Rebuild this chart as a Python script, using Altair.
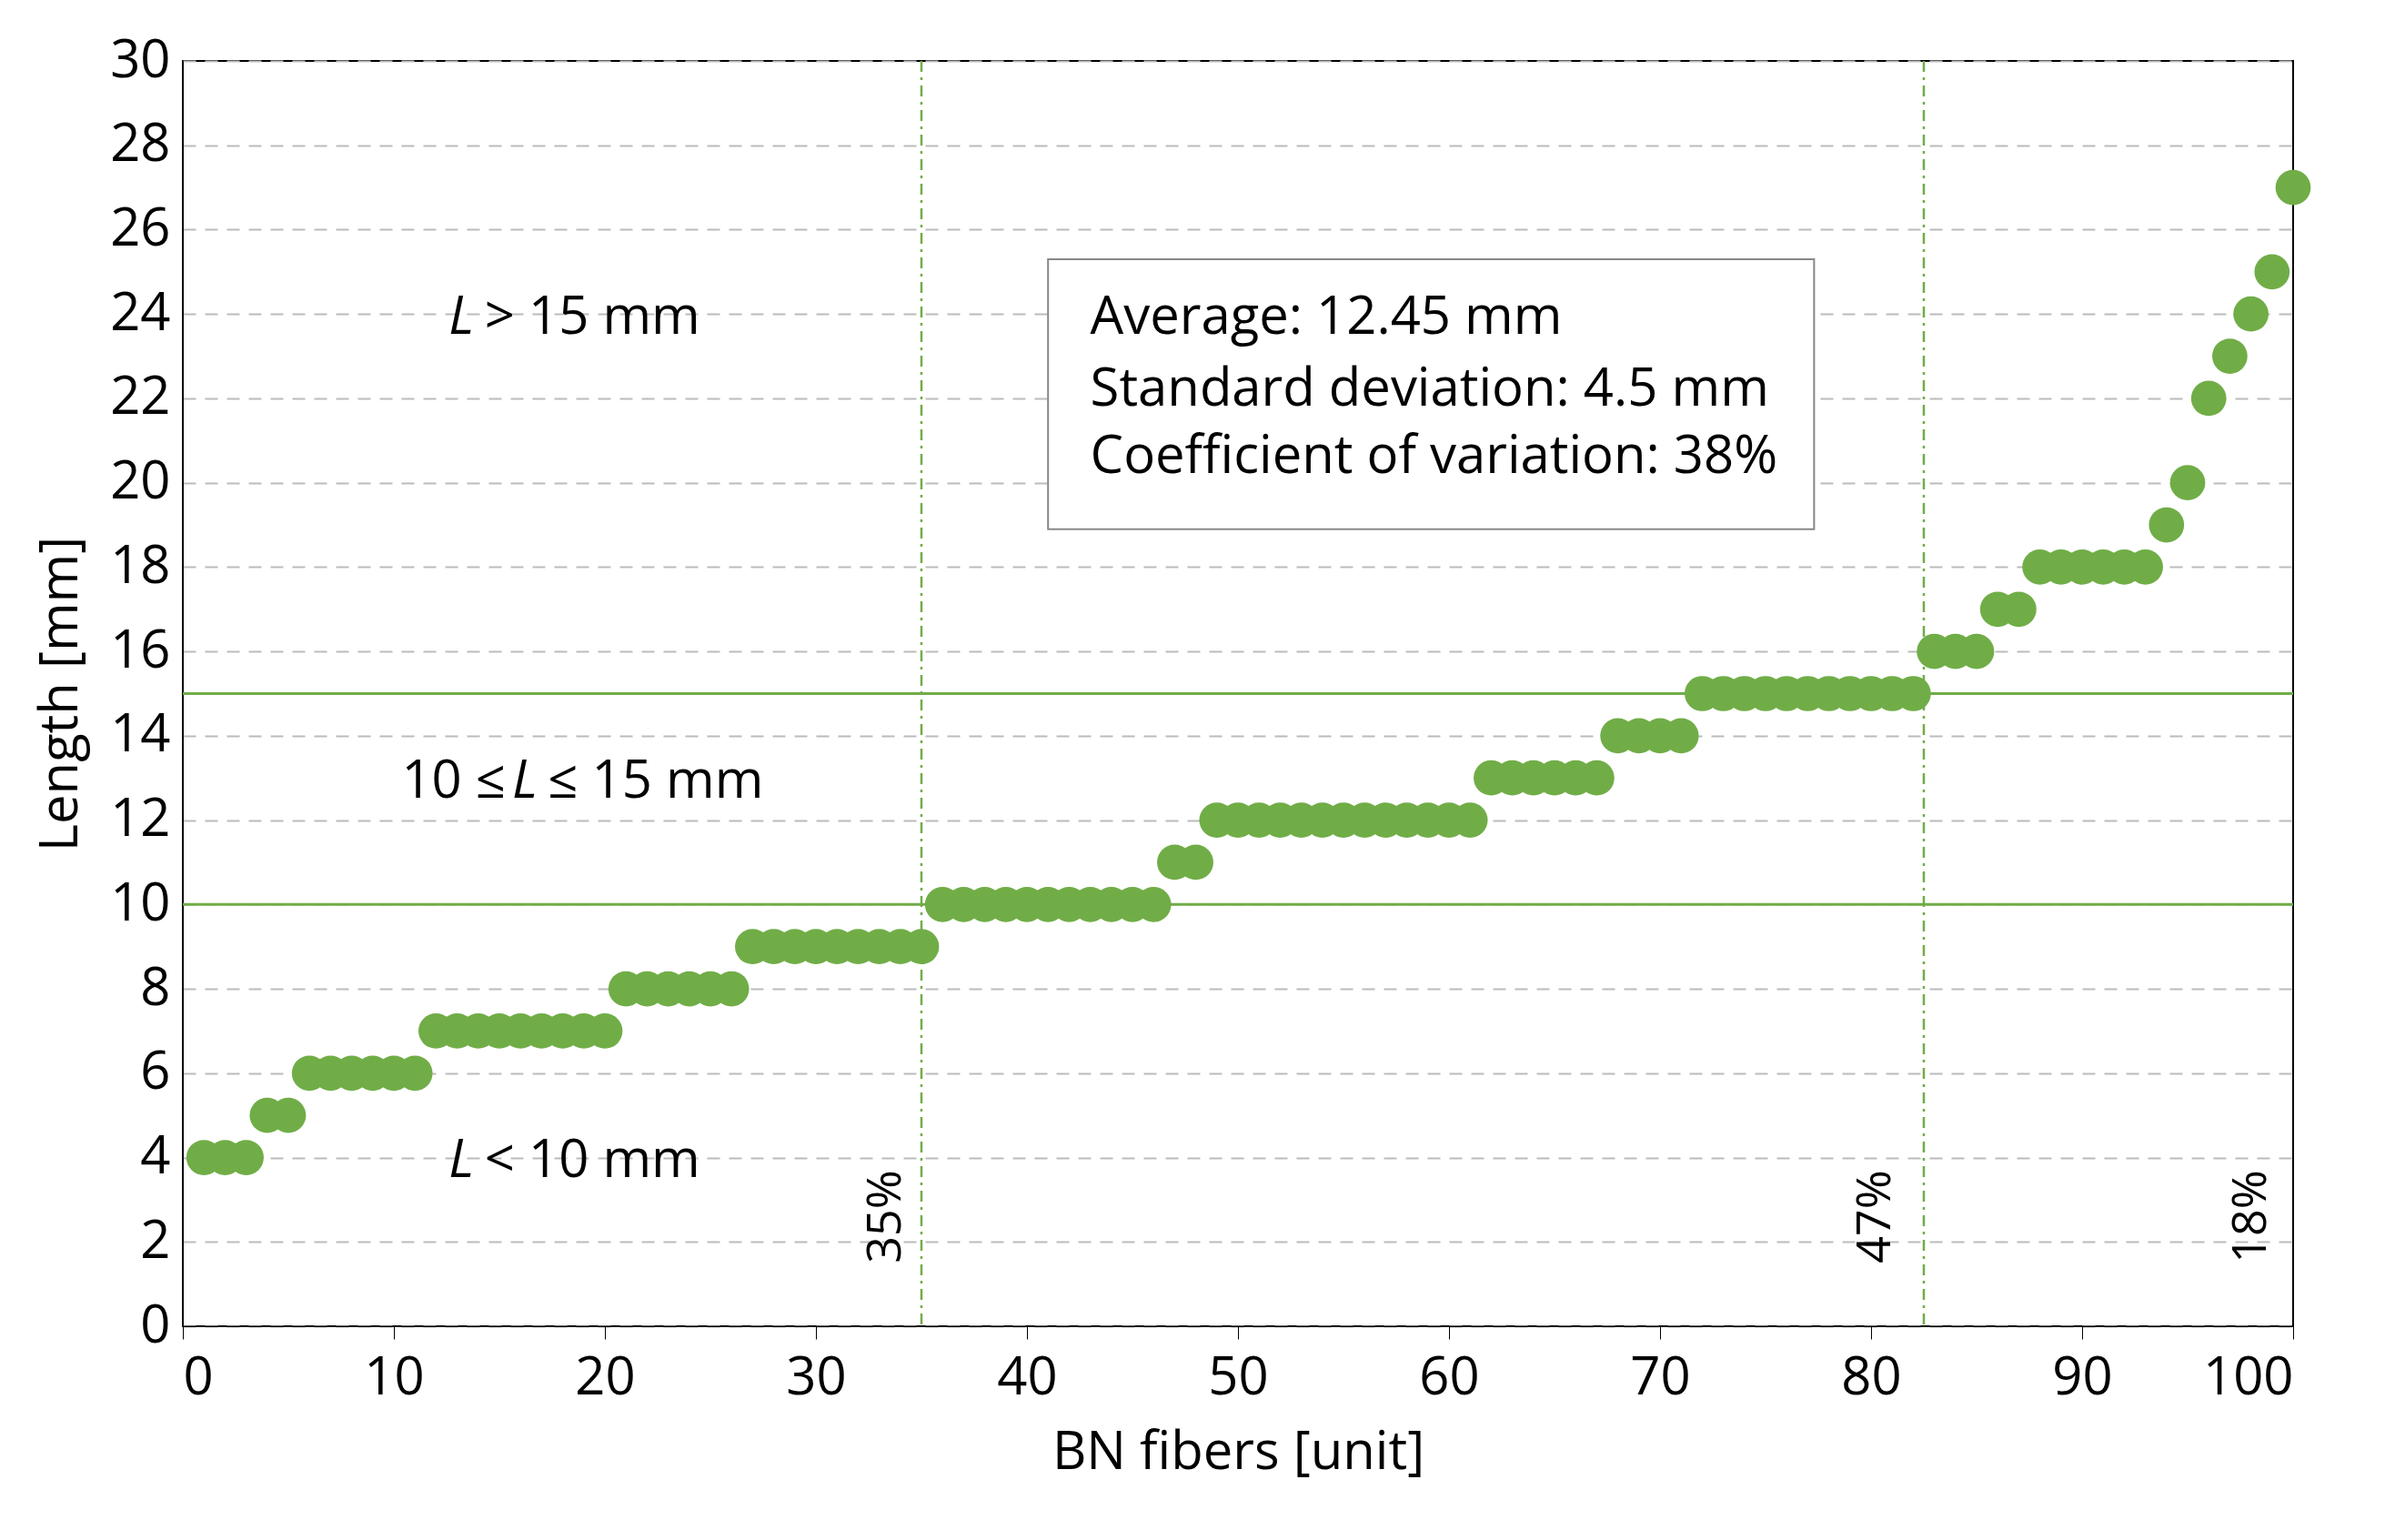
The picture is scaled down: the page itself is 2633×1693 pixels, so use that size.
import altair as alt
import pandas as pd

lengths = [4, 4, 4, 5, 5, 6, 6, 6, 6, 6, 6,
           7, 7, 7, 7, 7, 7, 7, 7, 7,
           8, 8, 8, 8, 8, 8,
           9, 9, 9, 9, 9, 9, 9, 9, 9,
           10, 10, 10, 10, 10, 10, 10, 10, 10, 10, 10,
           11, 11,
           12, 12, 12, 12, 12, 12, 12, 12, 12, 12, 12, 12, 12,
           13, 13, 13, 13, 13, 13,
           14, 14, 14, 14,
           15, 15, 15, 15, 15, 15, 15, 15, 15, 15, 15,
           16, 16, 16, 17, 17,
           18, 18, 18, 18, 18, 18,
           19, 20, 22, 23, 24, 25, 27]
fibers = list(range(1, len(lengths) + 1))

df = pd.DataFrame({"fiber": fibers, "length": lengths})
green = "#70ad47"
FONT = "Open Sans"
FS = 58

xs = alt.Scale(domain=[0, 100], nice=False)
ys = alt.Scale(domain=[0, 30], nice=False)

points = alt.Chart(df).mark_circle(size=1500, color=green, opacity=1).encode(
    x=alt.X("fiber:Q", scale=xs, title="BN fibers [unit]",
            axis=alt.Axis(values=list(range(0, 101, 10)), grid=False, tickSize=14,
                          tickColor="black", domainColor="black",
                          labelFontSize=FS, titleFontSize=FS, labelPadding=14,
                          titlePadding=24, labelColor="black", titleColor="black",
                          titleFontWeight="normal", labelFont=FONT, titleFont=FONT)),
    y=alt.Y("length:Q", scale=ys, title="Length [mm]",
            axis=alt.Axis(values=list(range(0, 31, 2)), gridDash=[14, 10], gridColor="#bbbbbb",
                          gridWidth=2, tickSize=0, domainColor="black",
                          labelFontSize=FS, titleFontSize=FS, labelPadding=14,
                          titlePadding=24, labelColor="black", titleColor="black",
                          titleFontWeight="normal", labelFont=FONT, titleFont=FONT)),
)

hlines = alt.Chart(pd.DataFrame({"y": [10, 15]})).mark_rule(color=green, strokeWidth=3).encode(
    y=alt.Y("y:Q", scale=ys))
vlines = alt.Chart(pd.DataFrame({"x": [35, 82.5]})).mark_rule(
    color=green, strokeWidth=2.5, strokeDash=[12, 6, 3, 6]).encode(x=alt.X("x:Q", scale=xs))

box = alt.Chart(pd.DataFrame({"x": [41], "x2": [77.3], "y": [25.3], "y2": [18.9]})).mark_rect(
    fill="white", stroke="#888888", strokeWidth=2).encode(
    x=alt.X("x:Q", scale=xs), x2="x2:Q", y=alt.Y("y:Q", scale=ys), y2="y2:Q")

box_txt = pd.DataFrame({"x": [43, 43, 43], "y": [23.9, 22.2, 20.6],
                        "t": ["Average: 12.45 mm", "Standard deviation: 4.5 mm",
                              "Coefficient of variation: 38%"]})
box_text = alt.Chart(box_txt).mark_text(align="left", fontSize=FS, font=FONT, color="black").encode(
    x=alt.X("x:Q", scale=xs), y=alt.Y("y:Q", scale=ys), text="t:N")

italic_df = pd.DataFrame({"x": [12.6, 12.6, 15.6], "y": [23.9, 3.9, 12.9], "t": ["L", "L", "L"]})
italic = alt.Chart(italic_df).mark_text(align="left", fontSize=FS, font=FONT, fontStyle="italic",
                                        color="black").encode(
    x=alt.X("x:Q", scale=xs), y=alt.Y("y:Q", scale=ys), text="t:N")
rest_df = pd.DataFrame({"x": [14.3, 14.3, 17.3], "y": [23.9, 3.9, 12.9],
                        "t": ["> 15 mm", "< 10 mm", "≤ 15 mm"]})
rest = alt.Chart(rest_df).mark_text(align="left", fontSize=FS, font=FONT, color="black").encode(
    x=alt.X("x:Q", scale=xs), y=alt.Y("y:Q", scale=ys), text="t:N")
lead_df = pd.DataFrame({"x": [15.3], "y": [12.9], "t": ["10 ≤"]})
lead = alt.Chart(lead_df).mark_text(align="right", fontSize=FS, font=FONT, color="black").encode(
    x=alt.X("x:Q", scale=xs), y=alt.Y("y:Q", scale=ys), text="t:N")

pct_df = pd.DataFrame({"x": [33.3, 80.2, 98.0], "y": [2.6, 2.6, 2.6], "t": ["35%", "47%", "18%"]})
pct = alt.Chart(pct_df).mark_text(angle=270, fontSize=52, font=FONT, color="black").encode(
    x=alt.X("x:Q", scale=xs), y=alt.Y("y:Q", scale=ys), text="t:N")

chart = (points + hlines + vlines + box + box_text + italic + rest + lead + pct).properties(
    width=2320, height=1391, background="white",
    padding={"left": 30, "top": 30, "right": 40, "bottom": 10}
).configure_view(stroke="black", strokeWidth=2)

chart.save("out.html", embed_options={"renderer": "svg", "actions": False})
